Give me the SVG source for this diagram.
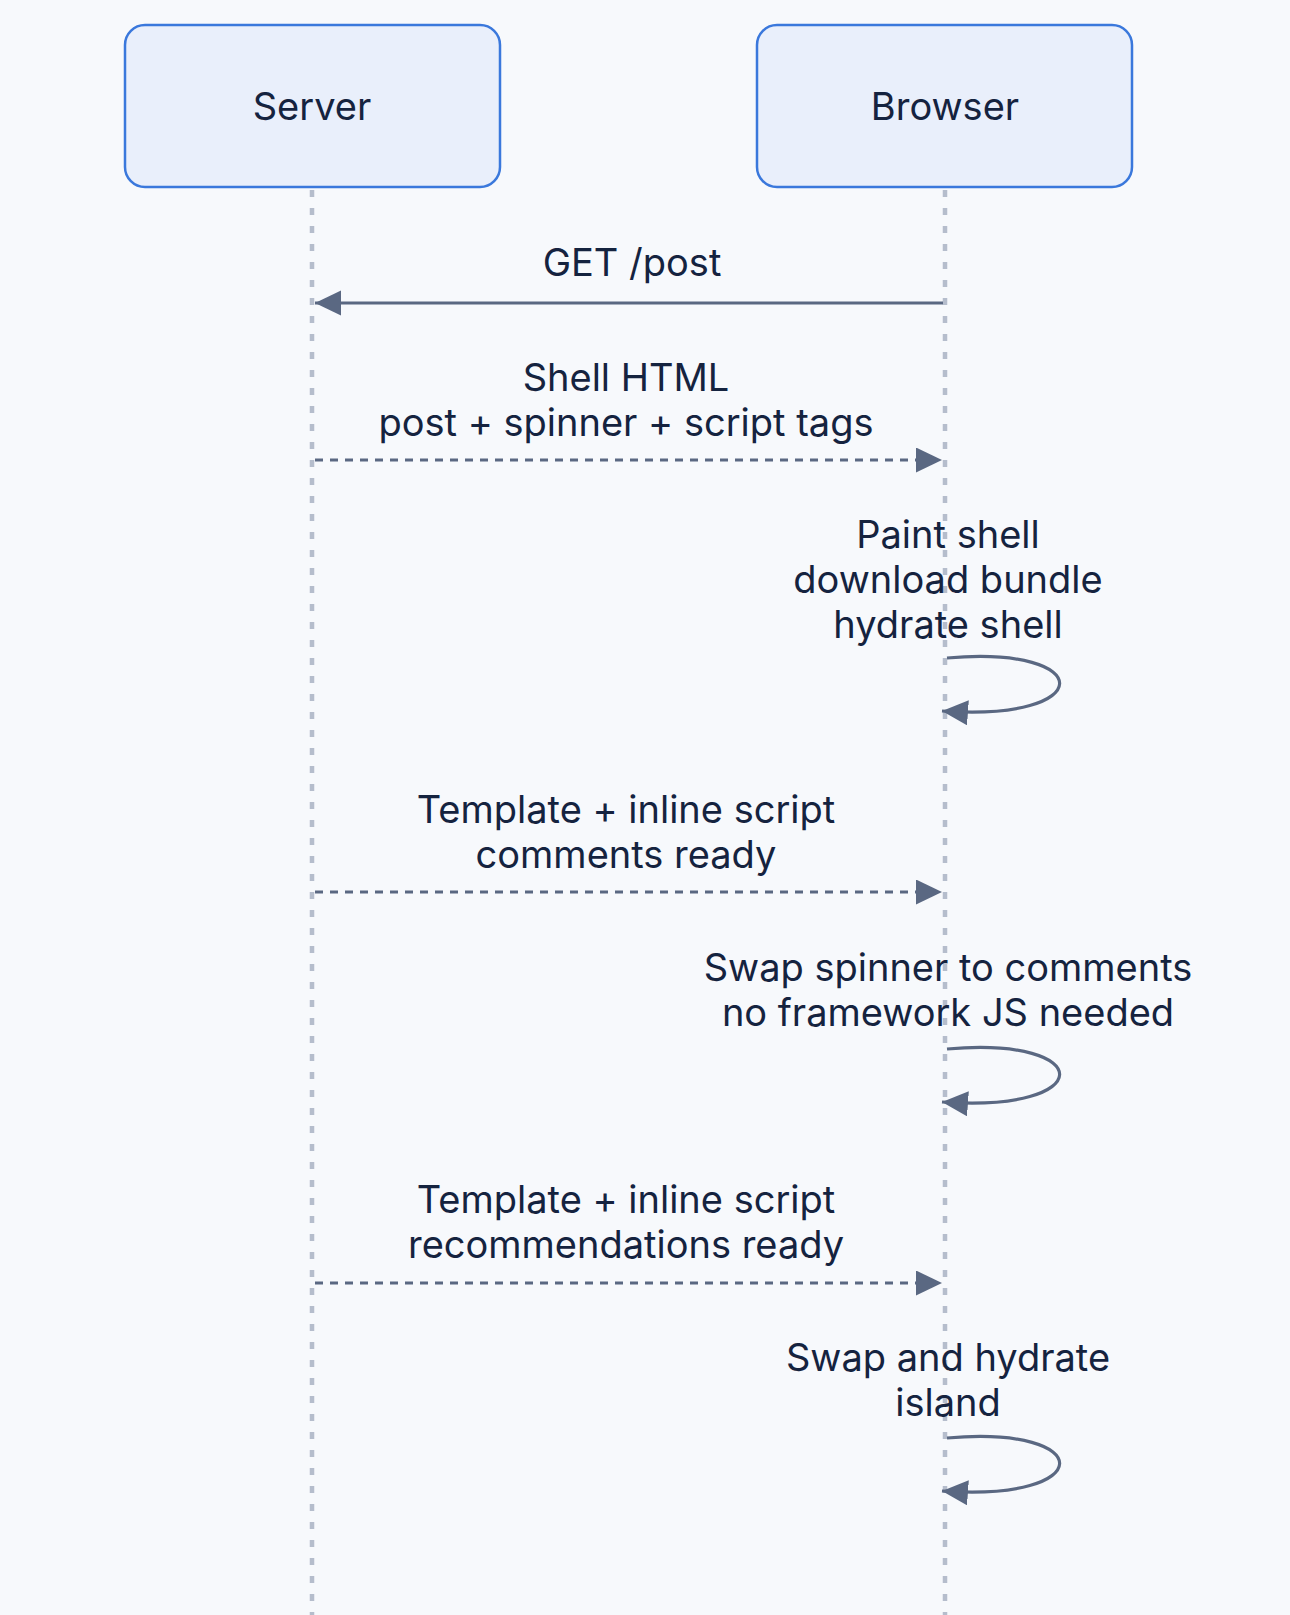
<svg xmlns="http://www.w3.org/2000/svg" width="1290" height="1615" viewBox="0 0 1290 1615">
<style>
.bg{fill:#f7f9fc}
.actor{fill:#e9effb;stroke:#3a78dc;stroke-width:2.5}
.t{font-family:Inter,"Noto Sans","Liberation Sans",sans-serif;font-size:38px;fill:#15233f;text-anchor:middle}
.life{stroke:#b5bdcc;stroke-width:4.5;stroke-dasharray:7 11;fill:none}
.msg{stroke:#5a6882;stroke-width:3.2;fill:none}
.dash{stroke-dasharray:8 7}
</style>
<defs>
<marker id="ah" markerUnits="userSpaceOnUse" markerWidth="28" markerHeight="26" refX="26" refY="12.5" orient="auto">
<path d="M0,0 L26,12.5 L0,25 Z" fill="#5a6882"/>
</marker>
</defs>
<rect class="bg" x="0" y="0" width="1290" height="1615"/>
<g id="lifelines">
<line class="life" x1="312" y1="190" x2="312" y2="1615"/>
<line class="life" x1="945" y1="190" x2="945" y2="1615"/>
</g>
<g id="server">
<rect class="actor" x="125" y="25" width="375" height="162" rx="20"/>
<text class="t" x="312" y="120">Server</text>
</g>
<g id="browser">
<rect class="actor" x="757" y="25" width="375" height="162" rx="20"/>
<text class="t" x="945" y="120">Browser</text>
</g>
<g id="connectors">
<line class="msg" x1="943" y1="303" x2="315" y2="303" marker-end="url(#ah)"/>
<line class="msg dash" x1="315" y1="460" x2="942" y2="460" marker-end="url(#ah)"/>
<path class="msg" d="M947,658 C1098,645 1098,722 942,711" marker-end="url(#ah)"/>
<line class="msg dash" x1="315" y1="892" x2="942" y2="892" marker-end="url(#ah)"/>
<path class="msg" d="M947,1049 C1098,1036 1098,1113 942,1102" marker-end="url(#ah)"/>
<line class="msg dash" x1="315" y1="1283" x2="942" y2="1283" marker-end="url(#ah)"/>
<path class="msg" d="M947,1438 C1098,1425 1098,1502 942,1491" marker-end="url(#ah)"/>
</g>
<g id="labels">
<text class="t" x="632" y="276">GET /post</text>
<text class="t" x="626" y="391">Shell HTML</text>
<text class="t" x="626" y="436">post + spinner + script tags</text>
<text class="t" x="948" y="548">Paint shell</text>
<text class="t" x="948" y="593">download bundle</text>
<text class="t" x="948" y="638">hydrate shell</text>
<text class="t" x="626" y="823">Template + inline script</text>
<text class="t" x="626" y="868">comments ready</text>
<text class="t" x="948" y="981">Swap spinner to comments</text>
<text class="t" x="948" y="1026">no framework JS needed</text>
<text class="t" x="626" y="1213">Template + inline script</text>
<text class="t" x="626" y="1258">recommendations ready</text>
<text class="t" x="948" y="1371">Swap and hydrate</text>
<text class="t" x="948" y="1416">island</text>
</g>
</svg>
